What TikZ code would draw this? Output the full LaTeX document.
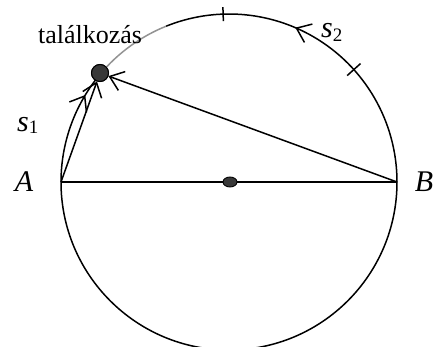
\documentclass[tikz,border=0pt]{standalone}
\usepackage{fontspec}
\setmainfont{Liberation Serif}
\usetikzlibrary{arrows.meta,decorations.markings,shapes.geometric}
\tikzset{
  ln/.style={line width=1.5pt},
  barb/.style={-{Straight Barb[length=13pt,width=20pt,line width=1.5pt]}},
  midarrow/.style={postaction={decorate},decoration={markings,mark=at position #1 with {\arrow{Straight Barb[length=13pt,width=20pt,line width=1.5pt]}}}},
  bigdot/.style={circle,draw=black,fill=black!78,line width=1pt,minimum size=17pt,inner sep=0pt},
  ctrdot/.style={ellipse,draw=black,fill=black!78,line width=0.9pt,minimum width=14pt,minimum height=10pt,inner sep=0pt},
  lbl/.style={font=\fontsize{30}{34}\selectfont\itshape,anchor=base,inner sep=0pt},
  tick/.style={line width=1.5pt}
}
\begin{document}
\begin{tikzpicture}[x=1pt,y=1pt]
\useasboundingbox (0,0) rectangle (437,346);
\clip (0,0) rectangle (437,346);
\coordinate (O) at (229,164);
\coordinate (A) at (61,164);
\coordinate (B) at (397,164);
\node[bigdot] (M) at (100,273) {};
\node[ctrdot] (C) at (230,164) {};
% circle pieces
\draw[ln,midarrow=0.845] (A) arc[start angle=180,end angle=472,radius=168];
\draw[ln,gray!85] ([shift={(112:168)}]O) arc[start angle=112,end angle=140,radius=168];
\draw[ln,midarrow=0.8] (A) arc[start angle=180,end angle=141,radius=168];
% ticks
\draw[tick] ([shift={(92:161)}]O) -- ([shift={(92:175)}]O);
\draw[tick] ([shift={(42:159)}]O) -- ([shift={(42:177)}]O);
% chords
\draw[ln] (A) -- (C) -- (B);
\draw[ln,barb] (B) -- (M);
\draw[ln,barb] (A) -- (M);
\node[bigdot] at (M) {};
% labels
\node[anchor=base,inner sep=0pt,font=\fontsize{26}{30}\selectfont] (t) at (90,302) {találkozás};
\node[lbl] (la) at (24,154) {A};
\node[lbl] (lb) at (424,154) {B};
\node[anchor=base west,inner sep=0pt] (s1) at (17,214) {\fontsize{30}{34}\selectfont\itshape s\fontsize{19}{22}\selectfont\upshape\raisebox{-1pt}{1}};
\node[anchor=base west,inner sep=0pt] (s2) at (321,308) {\fontsize{30}{34}\selectfont\itshape s\fontsize{19}{22}\selectfont\upshape\raisebox{-4pt}{2}};
\end{tikzpicture}
\end{document}
